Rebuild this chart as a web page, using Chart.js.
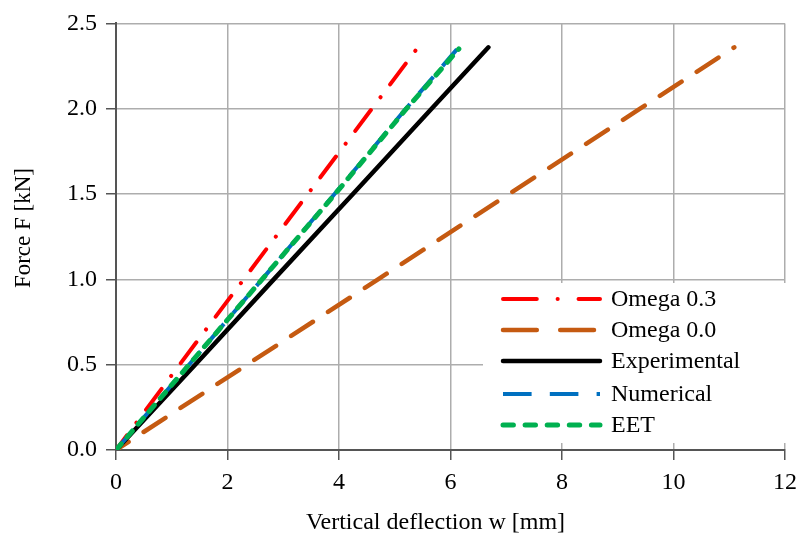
<!DOCTYPE html>
<html lang="en">
<head>
    <meta charset="UTF-8">
    <title>Force - deflection</title>
    <script src="https://cdn.jsdelivr.net/npm/chart.js"></script>
    <style>
        html, body {
            margin: 0;
            padding: 0;
            background: #fff;
        }
        .chart-box {
            width: 805px;
            height: 540px;
        }
    </style>
</head>
<body>
    <div class="chart-box">
        <canvas id="forceChart"></canvas>
    </div>
    <script>
    // values (deflection in mm, force in kN)
    // Omega 0.3 is listed from the top end down so its dash pattern starts with the end dot
    const omega03X = [5.37, 4.59, 3.44, 2.29, 1.14, 0];
    const omega03Y = [2.34, 2.0, 1.5, 1.0, 0.5, 0];
    const omega00X = [0, 2.35, 4.7, 7.05, 9.4, 11.09];
    const omega00Y = [0, 0.5, 1.0, 1.5, 2.0, 2.36];
    const expX = [0, 1.42, 2.83, 4.25, 5.66, 6.68];
    const expY = [0, 0.5, 1.0, 1.5, 2.0, 2.36];
    const numX = [0, 1.31, 2.62, 3.92, 5.2, 6.12];
    const numY = [0, 0.5, 1.0, 1.5, 2.0, 2.35];
    const eetX = [0, 1.31, 2.62, 3.93, 5.21, 6.15];
    const eetY = [0, 0.5, 1.0, 1.5, 2.0, 2.35];

    const xTicks = [0, 2, 4, 6, 8, 10, 12];
    const yTicks = [0, 0.5, 1.0, 1.5, 2.0, 2.5];

    const serif = 'Liberation Serif, Times New Roman, serif';

    function pts(xs, ys) {
        return xs.map((x, i) => ({ x: x, y: ys[i] }));
    }

    const series = [
        { label: 'Omega 0.3', data: pts(omega03X, omega03Y), color: '#ff0000', width: 4, dash: [0.1, 16, 26, 16], legendDash: [26, 16, 0.1, 16], offset: 0, cap: 'round', order: 2 },
        { label: 'Omega 0.0', data: pts(omega00X, omega00Y), color: '#c55a11', width: 4.5, dash: [26, 18], legendDash: [26, 18], offset: 11, cap: 'round', order: 4 },
        { label: 'Experimental', data: pts(expX, expY), color: '#000000', width: 4.5, dash: [], legendDash: [], offset: 0, cap: 'round', order: 3 },
        { label: 'Numerical', data: pts(numX, numY), color: '#0070c0', width: 4, dash: [22, 14], legendDash: [22, 14], offset: 0, cap: 'butt', order: 1 },
        { label: 'EET', data: pts(eetX, eetY), color: '#00b050', width: 5, dash: [8, 9], legendDash: [8, 9], offset: 0, cap: 'round', order: 0 }
    ];

    // legend sits inside the plot, with a white box over the grid
    const boxLegend = {
        id: 'boxLegend',
        afterDraw(chart) {
            const ctx = chart.ctx;
            const rows = [299, 330, 361, 394, 425];
            ctx.save();
            ctx.fillStyle = '#fff';
            ctx.fillRect(483, 283, 304, 160);
            series.forEach(function(s, i) {
                const y = rows[i];
                ctx.beginPath();
                ctx.strokeStyle = s.color;
                ctx.lineWidth = s.width;
                ctx.lineCap = s.cap;
                ctx.setLineDash(s.legendDash.map(d => d * 1.3));
                ctx.moveTo(503, y);
                ctx.lineTo(600, y);
                ctx.stroke();
                ctx.setLineDash([]);
                ctx.fillStyle = '#000';
                ctx.font = '24px ' + serif;
                ctx.textBaseline = 'middle';
                ctx.fillText(s.label, 611, y + 1);
            });
            ctx.restore();
        }
    };

    const ctx = document.getElementById('forceChart').getContext('2d');
    new Chart(ctx, {
        type: 'line',
        data: {
            datasets: series.map(s => ({
                label: s.label,
                data: s.data,
                borderColor: s.color,
                borderWidth: s.width,
                borderDash: s.dash,
                borderDashOffset: s.offset,
                borderCapStyle: s.cap,
                borderJoinStyle: 'round',
                pointRadius: 0,
                fill: false,
                tension: 0,
                order: s.order
            }))
        },
        options: {
            responsive: true,
            maintainAspectRatio: false,
            animation: false,
            layout: {
                padding: { top: 16, right: 17, left: 0, bottom: 0 }
            },
            plugins: {
                legend: { display: false },
                tooltip: { enabled: false }
            },
            scales: {
                x: {
                    type: 'linear',
                    min: 0,
                    max: 12,
                    afterFit: function(scale) { scale.height = 90; },
                    afterBuildTicks: function(scale) {
                        scale.ticks = xTicks.map(v => ({ value: v }));
                    },
                    ticks: {
                        color: '#000',
                        padding: 8,
                        font: { family: serif, size: 24 }
                    },
                    grid: {
                        color: '#adadad',
                        lineWidth: 1.5,
                        tickLength: 10,
                        tickColor: '#555'
                    },
                    border: { color: '#555', width: 2 },
                    title: {
                        display: true,
                        text: 'Vertical deflection w [mm]     ',
                        color: '#000',
                        font: { family: serif, size: 24 },
                        padding: { top: 0, bottom: 3 }
                    }
                },
                y: {
                    type: 'linear',
                    min: 0,
                    max: 2.5,
                    afterFit: function(scale) { scale.width = 116; },
                    afterBuildTicks: function(scale) {
                        scale.ticks = yTicks.map(v => ({ value: v }));
                    },
                    ticks: {
                        color: '#000',
                        padding: 9,
                        font: { family: serif, size: 24 },
                        callback: function(value) { return value.toFixed(1); }
                    },
                    grid: {
                        color: '#adadad',
                        lineWidth: 1.5,
                        tickLength: 10,
                        tickColor: '#555'
                    },
                    border: { color: '#555', width: 2 },
                    title: {
                        display: true,
                        text: '   Force F [kN]',
                        color: '#000',
                        font: { family: serif, size: 23 },
                        padding: { top: 10, bottom: 0 }
                    }
                }
            }
        },
        plugins: [boxLegend]
    });
    </script>
</body>
</html>
